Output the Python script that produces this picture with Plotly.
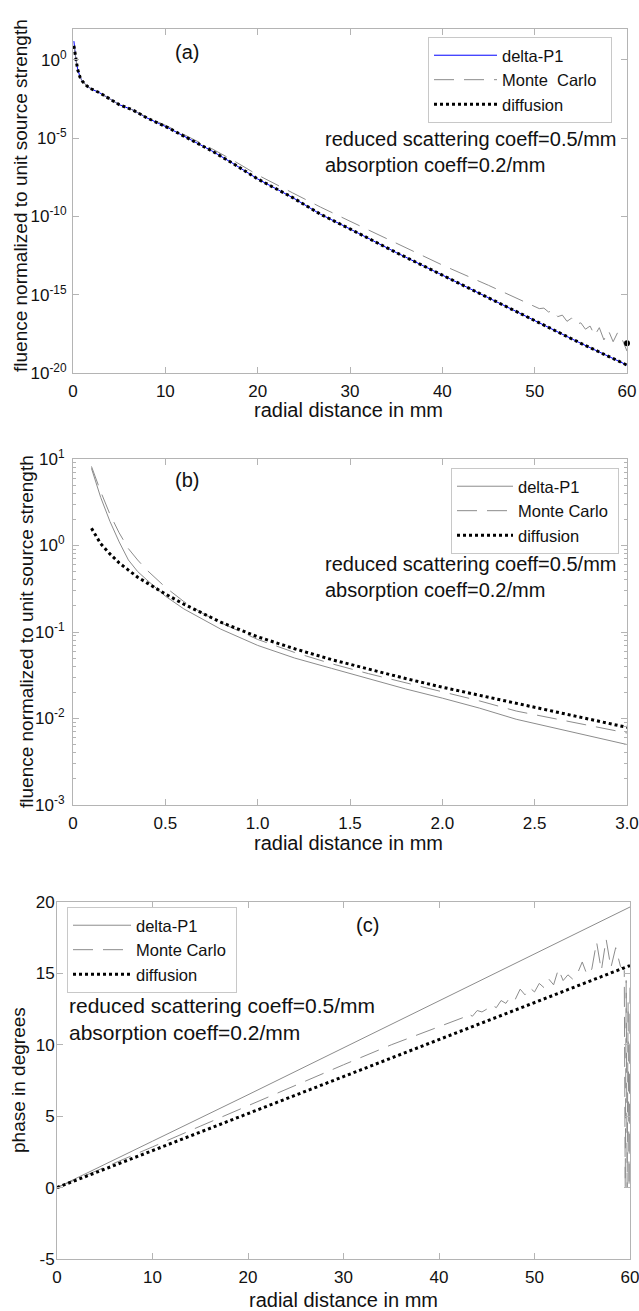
import plotly.graph_objects as go

# ---------------- Panel (a): fluence vs radial distance (0-60 mm) ----------------
r_a = [0.1, 0.3, 0.5, 0.76, 1.0, 1.5, 2.0, 2.9, 4.0, 5.0, 6.5, 8.0, 10.2, 12.0, 15.0,
       17.3, 20.0, 23.8, 26.8, 30.0, 35.0, 40.0, 45.0, 50.0, 55.0, 60.0]
diff_a = [8e0, 1e0, 2.5e-1, 7.9e-2, 4.5e-2, 2.2e-2, 1.4e-2, 7.9e-3, 3.2e-3, 1.4e-3,
          6.3e-4, 2.0e-4, 5.0e-5, 1.4e-5, 1.6e-6, 2.5e-7, 2.5e-8, 1.6e-9, 1.4e-10,
          1.6e-11, 5.0e-13, 1.8e-14, 6.3e-16, 2.0e-17, 7.9e-19, 3.2e-20]
dp1_a = [1.6e1, 1.2e0, 2.7e-1, 8.2e-2, 4.6e-2, 2.2e-2, 1.4e-2, 7.9e-3, 3.2e-3, 1.4e-3,
         6.3e-4, 2.0e-4, 5.0e-5, 1.4e-5, 1.6e-6, 2.5e-7, 2.5e-8, 1.6e-9, 1.4e-10,
         1.6e-11, 5.0e-13, 1.8e-14, 6.3e-16, 2.0e-17, 7.9e-19, 3.2e-20]
r_mc_a = [0.1, 0.3, 0.5, 0.76, 1.0, 1.5, 2.0, 2.9, 4.0, 5.0, 6.5, 8.0, 10.2, 12.0, 15.0,
          17.3, 20.0, 23.8, 26.8, 30.0, 35.0, 40.0, 45.0, 48.0, 50.0, 50.5, 51.0, 51.5,
          52.0, 52.5, 53.0, 53.5, 54.0, 54.5, 55.0, 55.5, 56.0, 56.5, 57.0, 57.5, 58.0,
          58.5, 59.0, 59.5, 60.0]
mc_a = [8e0, 1e0, 2.5e-1, 7.9e-2, 4.5e-2, 2.2e-2, 1.4e-2, 7.9e-3, 3.2e-3, 1.4e-3,
        6.3e-4, 2.2e-4, 6.0e-5, 1.8e-5, 2.2e-6, 4.0e-7, 4.5e-8, 3.2e-9, 4.0e-10,
        5.0e-11, 2.0e-12, 7.9e-14, 4.0e-15, 6.3e-16, 1.8e-16, 1.3e-16, 1.4e-16,
        7.9e-17, 1.0e-16, 4.0e-17, 5.0e-17, 2.0e-17, 3.2e-17, 1.3e-17, 1.6e-17,
        6.3e-18, 1.0e-17, 2.5e-18, 7.9e-18, 1.3e-18, 5.0e-18, 1.0e-18, 4.0e-18,
        1.3e-18, 2.5e-19]
dot_r_a = [60.0]
dot_v_a = [7.9e-19]

# ---------------- Panel (b): fluence vs radial distance (0-3 mm) ----------------
r_b = [0.1, 0.15, 0.2, 0.25, 0.3, 0.35, 0.4, 0.5, 0.6, 0.7, 0.8, 1.0, 1.2, 1.4, 1.6,
       1.8, 2.0, 2.2, 2.4, 2.6, 2.8, 3.0]
diff_b = [1.58, 1.05, 0.8, 0.63, 0.52, 0.43, 0.37, 0.275, 0.21, 0.165, 0.13, 0.088,
          0.064, 0.048, 0.037, 0.029, 0.023, 0.0185, 0.015, 0.012, 0.0098, 0.0079]
dp1_b = [7.8, 3.6, 1.9, 1.1, 0.68, 0.5, 0.40, 0.26, 0.185, 0.14, 0.108, 0.07, 0.05,
         0.038, 0.029, 0.022, 0.0172, 0.0132, 0.0098, 0.0078, 0.0062, 0.0050]
mc_b = [8.2, 4.2, 2.3, 1.4, 0.92, 0.68, 0.52, 0.33, 0.225, 0.165, 0.128, 0.082, 0.058,
        0.043, 0.033, 0.026, 0.0205, 0.016, 0.0122, 0.0100, 0.0082, 0.0068]

# ---------------- Panel (c): phase vs radial distance ----------------
r_c = [0, 5, 10, 20, 30, 40, 50, 60]
dp1_c = [0.0, 1.6, 3.25, 6.5, 9.8, 13.1, 16.4, 19.65]
diff_c = [0.0, 1.3, 2.6, 5.15, 7.75, 10.35, 12.95, 15.55]
r_mc_c = [0, 5, 10, 15, 20, 25, 27.5, 30, 35, 40, 42, 42.5, 43, 43.5, 44, 44.5, 45,
          45.5, 46, 46.5, 47, 47.5, 48, 48.5, 49, 49.5, 50, 50.5, 51, 51.5, 52, 52.5,
          53, 53.5, 54, 54.5, 55, 55.5, 56, 56.5, 57, 57.5, 58, 58.5, 59, 59.4, 59.5,
          59.6, 59.7, 59.8, 59.9, 60]
mc_c = [0.0, 1.4, 2.85, 4.3, 5.75, 7.2, 7.9, 8.6, 10.0, 11.3, 11.8, 11.9, 12.2, 12.0,
        12.4, 12.3, 12.5, 12.8, 12.6, 13.1, 12.9, 13.4, 13.2, 13.9, 13.5, 14.0, 13.7,
        14.3, 14.0, 14.6, 14.2, 15.3, 14.5, 14.9, 14.6, 15.0, 15.8, 14.9, 15.3, 17.2,
        15.2, 17.4, 15.4, 16.8, 15.5, 15.2, 0.0, 14.5, 0.0, 13.0, 0.0, 14.0]

legend_names = ["delta-P1", "Monte\u00a0 Carlo\u00a0\u00a0", "diffusion"]
legend_names_bc = ["delta-P1", "Monte Carlo\u00a0", "diffusion"]
x_ticks_a = [0, 10, 20, 30, 40, 50, 60]
y_ticks_a = [1e-20, 1e-15, 1e-10, 1e-5, 1e0]
y_text_a = ["10<sup>-20</sup>", "10<sup>-15</sup>", "10<sup>-10</sup>", "10<sup>-5</sup>", "10<sup>0</sup>"]
x_ticks_b = [0, 0.5, 1.0, 1.5, 2.0, 2.5, 3.0]
x_text_b = ["0", "0.5", "1.0", "1.5", "2.0", "2.5", "3.0"]
y_ticks_b = [1e-3, 1e-2, 1e-1, 1e0, 1e1]
y_text_b = ["10<sup>-3</sup>", "10<sup>-2</sup>", "10<sup>-1</sup>", "10<sup>0</sup>", "10<sup>1</sup>"]
y_minor_b = [m * d for d in [1e-3, 1e-2, 1e-1, 1e0] for m in [2, 3, 4, 5, 6, 7, 8, 9]]
y_ticks_c = [-5, 0, 5, 10, 15, 20]
y_text_c = ["-5", "0", "5", "10", "15", "20"]

FONT = "Liberation Sans, Arial, Helvetica, sans-serif"
AX = "#b4b4b4"
MCDASH = "20px,10px"
DOT = "3px,3px"

fig = go.Figure()

# panel a
fig.add_trace(go.Scatter(x=r_a, y=dp1_a, mode="lines", name=legend_names[0],
                         line=dict(color="#0000ff", width=1), xaxis="x", yaxis="y", legend="legend"))
fig.add_trace(go.Scatter(x=r_mc_a, y=mc_a, mode="lines", name=legend_names[1],
                         line=dict(color="#8c8c8c", width=1, dash=MCDASH), xaxis="x", yaxis="y", legend="legend"))
fig.add_trace(go.Scatter(x=r_a, y=diff_a, mode="lines", name=legend_names[2],
                         line=dict(color="black", width=3, dash=DOT), xaxis="x", yaxis="y", legend="legend"))
fig.add_trace(go.Scatter(x=dot_r_a, y=dot_v_a, mode="markers", showlegend=False, cliponaxis=False,
                         marker=dict(color="black", size=6), xaxis="x", yaxis="y"))

# panel b
fig.add_trace(go.Scatter(x=r_b, y=dp1_b, mode="lines", name=legend_names_bc[0],
                         line=dict(color="#8c8c8c", width=1), xaxis="x2", yaxis="y2", legend="legend2"))
fig.add_trace(go.Scatter(x=r_b, y=mc_b, mode="lines", name=legend_names_bc[1],
                         line=dict(color="#8c8c8c", width=1, dash=MCDASH), xaxis="x2", yaxis="y2", legend="legend2"))
fig.add_trace(go.Scatter(x=r_b, y=diff_b, mode="lines", name=legend_names_bc[2],
                         line=dict(color="black", width=3, dash=DOT), xaxis="x2", yaxis="y2", legend="legend2"))

# panel c
fig.add_trace(go.Scatter(x=r_c, y=dp1_c, mode="lines", name=legend_names_bc[0],
                         line=dict(color="#8c8c8c", width=1), xaxis="x3", yaxis="y3", legend="legend3"))
fig.add_trace(go.Scatter(x=r_mc_c, y=mc_c, mode="lines", name=legend_names_bc[1],
                         line=dict(color="#8c8c8c", width=1, dash=MCDASH), xaxis="x3", yaxis="y3", legend="legend3"))
fig.add_trace(go.Scatter(x=r_c, y=diff_c, mode="lines", name=legend_names_bc[2],
                         line=dict(color="black", width=3, dash=DOT), xaxis="x3", yaxis="y3", legend="legend3"))

W, H = 639, 1311


def px(x):
    return x / W


def py(y):
    return 1 - y / H


axis_common = dict(showline=True, linecolor=AX, linewidth=1, mirror="ticks", ticks="inside",
                   ticklen=6, tickcolor=AX, showgrid=False, zeroline=False, automargin=False,
                   ticklabeloverflow="allow",
                   tickfont=dict(family=FONT, size=17, color="#111"))

leg_common = dict(bgcolor="white", bordercolor="#c8c8c8", borderwidth=1,
                  font=dict(family=FONT, size=16.5, color="#111"), xanchor="left", yanchor="top",
                  tracegroupgap=0)

fig.update_layout(
    template="none",
    width=W, height=H, margin=dict(l=0, r=0, t=0, b=0, autoexpand=False),
    paper_bgcolor="white", plot_bgcolor="white",
    font=dict(family=FONT, color="#111"),
    xaxis=dict(domain=[px(73), px(627)], range=[0, 60], tickvals=x_ticks_a, anchor="y",
               ticklabelstandoff=3, **axis_common),
    yaxis=dict(domain=[py(373), py(29)], type="log", range=[-20, 1.98], tickvals=y_ticks_a,
               ticktext=y_text_a, anchor="x", ticklabelstandoff=2, **axis_common),
    xaxis2=dict(domain=[px(73), px(627)], range=[0, 3], tickvals=x_ticks_b, ticktext=x_text_b,
                anchor="y2", ticklabelstandoff=3, **axis_common),
    yaxis2=dict(domain=[py(805), py(459)], type="log", range=[-3, 1], tickvals=y_ticks_b,
                ticktext=y_text_b, anchor="x2", ticklabelstandoff=4,
                minor=dict(ticks="inside", ticklen=3, tickcolor=AX, showgrid=False,
                           tickmode="array", tickvals=y_minor_b), **axis_common),
    xaxis3=dict(domain=[px(57), px(630)], range=[0, 60], tickvals=x_ticks_a, anchor="y3",
                ticklabelstandoff=3, **axis_common),
    yaxis3=dict(domain=[py(1259), py(902)], range=[-5, 20], tickvals=y_ticks_c, ticktext=y_text_c,
                anchor="x3", ticklabelstandoff=-2, **axis_common),
    legend=dict(x=px(428), y=py(37), itemwidth=63, **leg_common),
    legend2=dict(x=px(451), y=py(468), itemwidth=56, **leg_common),
    legend3=dict(x=px(67), y=py(907), itemwidth=58, **leg_common),
    showlegend=True,
)

note = "reduced scattering coeff=0.5/mm<br>absorption coeff=0.2/mm"
ann = []
for (lab, lx, ly) in [("(a)", 187, 52), ("(b)", 187, 480), ("(c)", 367, 925)]:
    ann.append(dict(text=lab, x=px(lx), y=py(ly), xref="paper", yref="paper", showarrow=False,
                    xanchor="center", yanchor="middle", font=dict(family=FONT, size=20, color="#111")))
for (lx, ly, fs) in [(323, 152, 20), (323, 577, 20), (67, 1019, 21)]:
    ann.append(dict(text=note, x=px(lx), y=py(ly), xref="paper", yref="paper", showarrow=False,
                    xanchor="left", yanchor="middle", align="left",
                    font=dict(family=FONT, size=fs, color="#111")))
for (lx, ly) in [(348, 410), (348, 843), (343, 1300)]:
    ann.append(dict(text="radial distance in mm", x=px(lx), y=py(ly), xref="paper", yref="paper",
                    showarrow=False, xanchor="center", yanchor="middle",
                    font=dict(family=FONT, size=20, color="#111")))
for (txt, lx, ly) in [("fluence normalized to unit source strength", 21, 196),
                      ("fluence normalized to unit source strength", 26, 632),
                      ("phase in degrees", 18, 1080)]:
    ann.append(dict(text=txt, x=px(lx), y=py(ly), xref="paper", yref="paper", showarrow=False,
                    xanchor="center", yanchor="middle", textangle=-90,
                    font=dict(family=FONT, size=19, color="#111")))
fig.update_layout(annotations=ann)

fig.write_html("out.html", config={"displayModeBar": False},
               post_script="document.body.style.margin='0';document.body.style.overflow='hidden';")
